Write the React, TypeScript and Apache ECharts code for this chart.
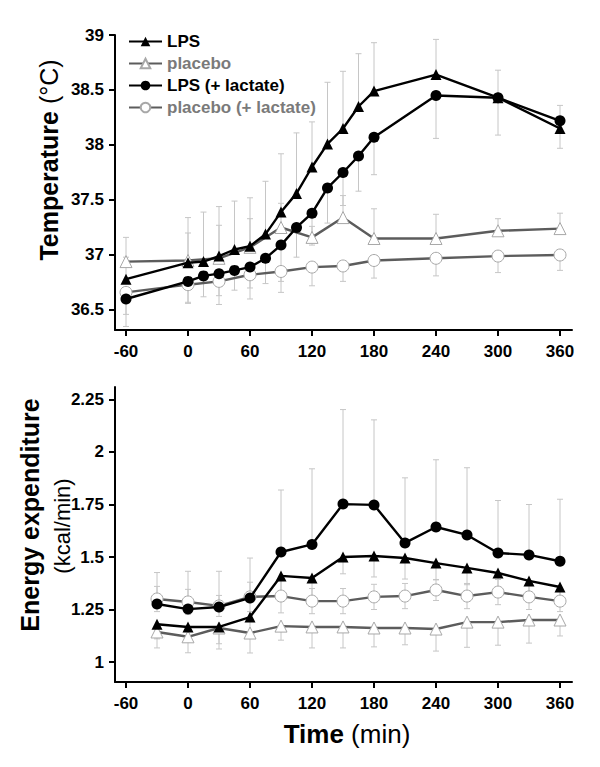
import React, { useEffect, useRef } from "react";
import * as echarts from "echarts";

// ---------- Temperature (top panel) ----------
const tempTimesFine = [-60, 0, 15, 30, 45, 60, 75, 90, 105, 120, 135, 150, 165, 180, 240, 300, 360];
const tempLPS = [36.78, 36.93, 36.94, 36.99, 37.05, 37.08, 37.19, 37.39, 37.56, 37.8, 38.01, 38.15, 38.35, 38.49, 38.64, 38.43, 38.15];
const tempLPSErr = [0.2, 0.27, 0.45, 0.45, 0.44, 0.44, 0.48, 0.53, 0.55, 0.41, 0.56, 0.52, 0.48, 0.44, 0.32, 0.25, 0.21];
const tempLPSLac = [36.6, 36.76, 36.81, 36.83, 36.86, 36.89, 36.97, 37.09, 37.25, 37.38, 37.61, 37.75, 37.9, 38.07, 38.45, 38.43, 38.22];
const tempLPSLacErr = [0.25, 0.2, 0.19, 0.2, 0.18, 0.19, 0.23, 0.33, 0.27, 0.29, 0.32, 0.3, 0.32, 0.34, 0.39, 0.34, 0.25];
const tempTimesCoarse = [-60, 0, 30, 60, 90, 120, 150, 180, 240, 300, 360];
const tempPlacebo = [36.94, 36.95, 36.97, 37.07, 37.25, 37.16, 37.34, 37.15, 37.15, 37.22, 37.24];
const tempPlaceboErr = [0.22, 0.39, 0.3, 0.26, 0.22, 0.1, 0.2, 0.27, 0.22, 0.11, 0.14];
const tempPlaceboLac = [36.66, 36.73, 36.76, 36.82, 36.85, 36.89, 36.9, 36.95, 36.97, 36.99, 37.0];
const tempPlaceboLacErr = [0.2, 0.16, 0.21, 0.22, 0.19, 0.17, 0.14, 0.16, 0.16, 0.15, 0.14];
const tempTicks = [36.5, 37, 37.5, 38, 38.5, 39];

// ---------- Energy expenditure (bottom panel) ----------
const eeTimes = [-30, 0, 30, 60, 90, 120, 150, 180, 210, 240, 270, 300, 330, 360];
const eeLPS = [1.18, 1.167, 1.167, 1.214, 1.41, 1.4, 1.5, 1.505, 1.495, 1.471, 1.448, 1.424, 1.386, 1.357];
const eeLPSErr = [0.07, 0.07, 0.08, 0.08, 0.1, 0.1, 0.08, 0.1, 0.1, 0.08, 0.08, 0.08, 0.08, 0.07];
const eeLPSLac = [1.276, 1.252, 1.262, 1.305, 1.524, 1.56, 1.752, 1.748, 1.567, 1.643, 1.605, 1.519, 1.51, 1.48];
const eeLPSLacErr = [0.15, 0.18, 0.17, 0.19, 0.295, 0.36, 0.45, 0.405, 0.31, 0.32, 0.32, 0.25, 0.24, 0.295];
const eePlacebo = [1.143, 1.12, 1.162, 1.138, 1.171, 1.167, 1.167, 1.162, 1.162, 1.157, 1.19, 1.19, 1.2, 1.2];
const eePlaceboErr = [0.076, 0.076, 0.1, 0.095, 0.067, 0.1, 0.1, 0.09, 0.08, 0.105, 0.12, 0.11, 0.11, 0.076];
const eePlaceboLac = [1.3, 1.286, 1.267, 1.31, 1.314, 1.29, 1.29, 1.31, 1.314, 1.343, 1.314, 1.333, 1.31, 1.29];
const eePlaceboLacErr = [0.06, 0.06, 0.05, 0.07, 0.08, 0.06, 0.06, 0.06, 0.06, 0.05, 0.06, 0.06, 0.06, 0.05];
const eeTicks = [1, 1.25, 1.5, 1.75, 2, 2.25];

const timeTicks = [-60, 0, 60, 120, 180, 240, 300, 360];

const FONT = "'Liberation Sans', Arial, sans-serif";
const BLACK = "#000000";
const GREY_LINE = "#5c5c5c";
const OPEN_BORDER = "#a8a8a8";
const ERR = "#c6c6c6";

type Dir = "up" | "down" | "both";

function errSeries(xs: number[], ys: number[], errs: number[], dir: Dir, idx: number) {
  return {
    type: "custom",
    xAxisIndex: idx,
    yAxisIndex: idx,
    z: 1,
    silent: true,
    clip: false,
    encode: { x: 0, y: 1 },
    data: xs.map((x, i) => [x, ys[i], errs[i]]),
    renderItem: (params: any, api: any) => {
      const x = api.value(0);
      const y = api.value(1);
      const e = api.value(2);
      const lo = dir === "up" ? y : y - e;
      const hi = dir === "down" ? y : y + e;
      const p1 = api.coord([x, lo]);
      const p2 = api.coord([x, hi]);
      const st = { stroke: ERR, lineWidth: 1 };
      const children: any[] = [
        { type: "line", shape: { x1: p1[0], y1: p1[1], x2: p2[0], y2: p2[1] }, style: st },
      ];
      if (dir !== "up") children.push({ type: "line", shape: { x1: p1[0] - 3, y1: p1[1], x2: p1[0] + 3, y2: p1[1] }, style: st });
      if (dir !== "down") children.push({ type: "line", shape: { x1: p2[0] - 3, y1: p2[1], x2: p2[0] + 3, y2: p2[1] }, style: st });
      return { type: "group", children };
    },
  };
}

function lineSeries(name: string, xs: number[], ys: number[], symbol: string, open: boolean, idx: number, z: number) {
  return {
    type: "line",
    name,
    xAxisIndex: idx,
    yAxisIndex: idx,
    z,
    data: xs.map((x, i) => [x, ys[i]]),
    symbol,
    symbolSize: open ? 12 : 11,
    showAllSymbol: true,
    lineStyle: { color: open ? GREY_LINE : BLACK, width: 2.4 },
    itemStyle: open
      ? { color: "#ffffff", borderColor: OPEN_BORDER, borderWidth: 1 }
      : { color: BLACK, borderColor: BLACK, borderWidth: 0 },
  };
}

function xAxis(idx: number) {
  return {
    type: "value",
    gridIndex: idx,
    min: -70.65,
    max: 371.6,
    axisLine: { show: true, onZero: false, lineStyle: { color: BLACK, width: 2 } },
    axisTick: { show: true, customValues: timeTicks, length: 6, lineStyle: { color: BLACK, width: 2 } },
    axisLabel: {
      customValues: timeTicks,
      margin: 13,
      color: BLACK,
      fontSize: 17,
      fontWeight: "bold",
      fontFamily: FONT,
    },
    splitLine: { show: false },
  };
}

function yAxis(idx: number, min: number, max: number, ticks: number[]) {
  return {
    type: "value",
    gridIndex: idx,
    min,
    max,
    axisLine: { show: true, onZero: false, lineStyle: { color: BLACK, width: 2 } },
    axisTick: { show: true, customValues: ticks, length: 6, lineStyle: { color: BLACK, width: 2 } },
    axisLabel: {
      customValues: ticks,
      margin: 11,
      color: BLACK,
      fontSize: 17,
      fontWeight: "bold",
      fontFamily: FONT,
    },
    splitLine: { show: false },
  };
}

export default function App() {
  const ref = useRef<HTMLDivElement>(null);
  useEffect(() => {
    document.body.style.margin = "0";
    if (!ref.current) return;
    const chart = echarts.init(ref.current, undefined, { renderer: "svg" });
    chart.setOption({
      animation: false,
      backgroundColor: "#ffffff",
      textStyle: { fontFamily: FONT },
      grid: [
        { left: 115, top: 35, width: 457, height: 295 },
        { left: 115, top: 387, width: 457, height: 295 },
      ],
      xAxis: [xAxis(0), xAxis(1)],
      yAxis: [yAxis(0, 36.318, 39, tempTicks), yAxis(1, 0.9048, 2.3095, eeTicks)],
      legend: {
        orient: "vertical",
        left: 123,
        top: 28,
        itemWidth: 33,
        itemHeight: 12,
        itemGap: 5,
        selectedMode: false,
        textStyle: { fontSize: 17, fontWeight: "bold", fontFamily: FONT },
        data: [
          { name: "LPS", textStyle: { color: BLACK } },
          { name: "placebo", textStyle: { color: "#7a7a7a" } },
          { name: "LPS (+ lactate)", textStyle: { color: BLACK } },
          { name: "placebo (+ lactate)", textStyle: { color: "#7a7a7a" } },
        ],
      },
      series: [
        errSeries(tempTimesFine, tempLPS, tempLPSErr, "up", 0),
        errSeries(tempTimesFine, tempLPSLac, tempLPSLacErr, "down", 0),
        errSeries(tempTimesCoarse, tempPlacebo, tempPlaceboErr, "up", 0),
        errSeries(tempTimesCoarse, tempPlaceboLac, tempPlaceboLacErr, "down", 0),
        lineSeries("placebo (+ lactate)", tempTimesCoarse, tempPlaceboLac, "circle", true, 0, 2),
        lineSeries("placebo", tempTimesCoarse, tempPlacebo, "triangle", true, 0, 3),
        lineSeries("LPS (+ lactate)", tempTimesFine, tempLPSLac, "circle", false, 0, 4),
        lineSeries("LPS", tempTimesFine, tempLPS, "triangle", false, 0, 5),

        errSeries(eeTimes, eeLPS, eeLPSErr, "down", 1),
        errSeries(eeTimes, eeLPSLac, eeLPSLacErr, "up", 1),
        errSeries(eeTimes, eePlacebo, eePlaceboErr, "down", 1),
        errSeries(eeTimes, eePlaceboLac, eePlaceboLacErr, "both", 1),
        lineSeries("placebo", eeTimes, eePlacebo, "triangle", true, 1, 2),
        lineSeries("placebo (+ lactate)", eeTimes, eePlaceboLac, "circle", true, 1, 3),
        lineSeries("LPS", eeTimes, eeLPS, "triangle", false, 1, 4),
        lineSeries("LPS (+ lactate)", eeTimes, eeLPSLac, "circle", false, 1, 5),
      ],
      graphic: [
        {
          type: "text",
          x: 49,
          y: 160,
          rotation: Math.PI / 2,
          style: {
            text: "{b|Temperature} {n|(°C)}",
            rich: {
              b: { fontSize: 25, fontWeight: "bold", fontFamily: FONT, fill: BLACK },
              n: { fontSize: 25, fontFamily: FONT, fill: BLACK },
            },
            fontSize: 25,
            fontFamily: FONT,
            fill: BLACK,
            align: "center",
            verticalAlign: "middle",
          },
        },
        {
          type: "text",
          x: 30,
          y: 515,
          rotation: Math.PI / 2,
          style: { text: "Energy expenditure", fontSize: 25, fontWeight: "bold", fontFamily: FONT, fill: BLACK, align: "center", verticalAlign: "middle" },
        },
        {
          type: "text",
          x: 62,
          y: 526,
          rotation: Math.PI / 2,
          style: { text: "(kcal/min)", fontSize: 22, fontFamily: FONT, fill: BLACK, align: "center", verticalAlign: "middle" },
        },
        {
          type: "text",
          x: 347,
          y: 734,
          style: {
            text: "{b|Time} {n|(min)}",
            rich: {
              b: { fontSize: 26, fontWeight: "bold", fontFamily: FONT, fill: BLACK },
              n: { fontSize: 26, fontFamily: FONT, fill: BLACK },
            },
            fontSize: 26,
            fontFamily: FONT,
            fill: BLACK,
            align: "center",
            verticalAlign: "middle",
          },
        },
      ],
    });
    return () => chart.dispose();
  }, []);
  return <div ref={ref} style={{ width: 600, height: 767 }} />;
}
